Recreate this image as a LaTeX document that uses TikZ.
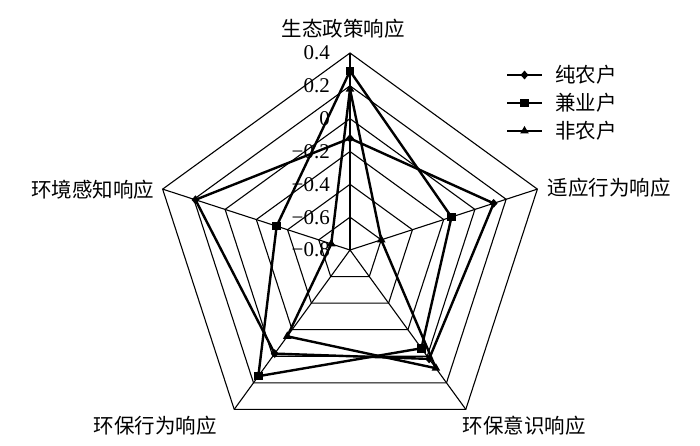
\documentclass[tikz,border=0pt]{standalone}
\usepackage{fontspec}
\setmainfont{Liberation Serif}
\newfontfamily\cjk{Noto Sans CJK SC}
\usetikzlibrary{shapes.geometric}
\begin{document}
\begin{tikzpicture}[x=1pt,y=1pt,
  gridline/.style={line width=1.1pt, black},
  series/.style={line width=2.4pt, black, line join=round},
  mdia/.style={diamond, fill=black, inner sep=0pt, minimum width=8pt, minimum height=9pt},
  msq/.style={rectangle, fill=black, inner sep=0pt, minimum size=8.5pt},
  mtri/.style={regular polygon, regular polygon sides=3, fill=black, inner sep=0pt, minimum size=10pt},
  cat/.style={font=\cjk\fontsize{20.5}{24}\selectfont, inner sep=0pt},
  ticklab/.style={font=\fontsize{21}{24}\selectfont, anchor=east, inner sep=0pt},
  legline/.style={line width=2.4pt, black},
]
\useasboundingbox (0,0) rectangle (700,445);
\begin{scope}[shift={(350,195)}]
  % rings
  \foreach \k in {1,...,6} {
    \draw[gridline, line join=miter] (90:{\k*197/6}) \foreach \j in {1,...,4} {-- ({90-72*\j}:{\k*197/6})} -- cycle;
  }
  % spokes
  \coordinate (O) at (0,0);
  \foreach \j in {0,...,4} {
    \coordinate (v\j) at ({90-72*\j}:197);
    \draw[gridline] (O) -- (v\j);
  }
  % tick labels
  \foreach \t [count=\k from 0] in {−0.8,−0.6,−0.4,−0.2,0,0.2,0.4}
    \node[ticklab] (t\k) at (-20,{\k*197/6}) {\t};
  % category labels
  \node[cat] (c0) at (-7,221) {生态政策响应};
  \node[cat] (c1) at (259,62) {适应行为响应};
  \node[cat] (c2) at (174,-176) {环保意识响应};
  \node[cat] (c3) at (-195,-176) {环保行为响应};
  \node[cat] (c4) at (-257.5,60) {环境感知响应};
  % data: 纯农户
  \foreach \v [count=\i from 0] in {-0.12,0.12,0.02,-0.02,0.19}
    \coordinate (a\i) at ({90-72*\i}:{(\v+0.8)*197/1.2});
  % data: 兼业户
  \foreach \v [count=\i from 0] in {0.29,-0.15,-0.06,0.15,-0.33}
    \coordinate (b\i) at ({90-72*\i}:{(\v+0.8)*197/1.2});
  % data: 非农户
  \foreach \v [count=\i from 0] in {0.18,-0.60,0.09,-0.15,-0.68}
    \coordinate (c\i) at ({90-72*\i}:{(\v+0.8)*197/1.2});
  \draw[series] (a0) -- (a1) -- (a2) -- (a3) -- (a4) -- cycle;
  \draw[series] (b0) -- (b1) -- (b2) -- (b3) -- (b4) -- cycle;
  \draw[series] (c0) -- (c1) -- (c2) -- (c3) -- (c4) -- cycle;
  \foreach \i in {0,...,4} {
    \node[mdia] (ma\i) at (a\i) {};
    \node[msq] (mb\i) at (b\i) {};
    \node[mtri] (mc\i) at (c\i) {};
  }
\end{scope}
% legend
\coordinate (l1a) at (507,370); \coordinate (l1b) at (542,370);
\coordinate (l2a) at (507,342); \coordinate (l2b) at (542,342);
\coordinate (l3a) at (507,314); \coordinate (l3b) at (542,314);
\draw[legline] (l1a) -- (l1b);
\draw[legline] (l2a) -- (l2b);
\draw[legline] (l3a) -- (l3b);
\node[mdia] (lm1) at (524.5,370) {};
\node[msq] (lm2) at (524.5,342) {};
\node[mtri] (lm3) at (524.5,314) {};
\node[cat, anchor=west] (lt1) at (555,370) {纯农户};
\node[cat, anchor=west] (lt2) at (555,342) {兼业户};
\node[cat, anchor=west] (lt3) at (555,314) {非农户};
\end{tikzpicture}
\end{document}
